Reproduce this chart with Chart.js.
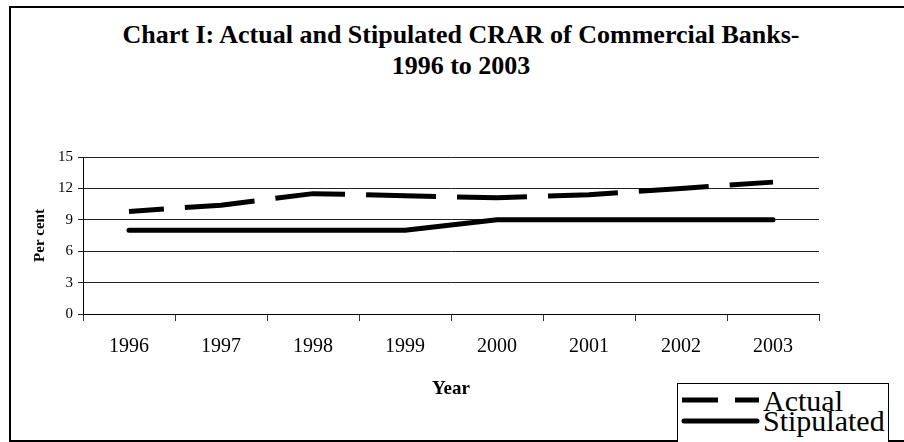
<!DOCTYPE html>
<html>
<head>
<meta charset="utf-8">
<script src="https://cdn.jsdelivr.net/npm/chart.js@4.4.1/dist/chart.umd.min.js"></script>
<style>
    html, body { margin: 0; padding: 0; background: #fff; overflow: hidden; }
    #wrap { position: relative; width: 904px; height: 442px; }
    #frame { position: absolute; left: 9px; top: 6px; width: 920px; height: 432px; border: 2px solid #000; }
    #chart { position: absolute; left: 0; top: 0; }
    .title { position: absolute; left: 0; width: 922px; text-align: center; font: bold 26px "Liberation Serif", serif; line-height: 30px; color: #000; white-space: nowrap; }
    #legend { position: absolute; left: 0; top: 0; }
</style>
</head>
<body>
<div id="wrap">
    <div id="frame"></div>
    <div class="title" style="top:20px">Chart I: Actual and Stipulated CRAR of Commercial Banks-</div>
    <div class="title" style="top:51px">1996 to 2003</div>
    <canvas id="chart" width="904" height="442"></canvas>
    <svg id="legend" width="904" height="442">
        <rect x="677.5" y="383.5" width="211" height="70" fill="#fff" stroke="#000" stroke-width="1"/>
        <line x1="682" y1="400" x2="759" y2="400" stroke="#000" stroke-width="5" stroke-dasharray="36,17"/>
        <line x1="684" y1="421" x2="757" y2="421" stroke="#000" stroke-width="5" stroke-linecap="round"/>
        <text x="763" y="411" font-family="Liberation Serif" font-size="30">Actual</text>
        <text x="763" y="431" font-family="Liberation Serif" font-size="30">Stipulated</text>
    </svg>
</div>
<script>
// données
const years = ['1996', '1997', '1998', '1999', '2000', '2001', '2002', '2003'];
const actual = [9.8, 10.4, 11.5, 11.3, 11.1, 11.4, 12.0, 12.6];
const stipulated = [8, 8, 8, 8, 9, 9, 9, 9];
const yTicks = [0, 3, 6, 9, 12, 15];

window.addEventListener("load", (event) => {
    const ctx = document.getElementById("chart").getContext('2d');
    const myChart = new Chart(ctx, {
        type: 'line',
        data: {
            labels: years,
            datasets: [
                {
                    label: 'Actual',
                    data: actual,
                    borderColor: '#000',
                    borderWidth: 5,
                    borderDash: [70, 21],
                    borderDashOffset: 35,
                    borderCapStyle: 'butt',
                    pointRadius: 0,
                    tension: 0,
                    fill: false
                },
                {
                    label: 'Stipulated',
                    data: stipulated,
                    borderColor: '#000',
                    borderWidth: 5,
                    borderCapStyle: 'round',
                    borderJoinStyle: 'round',
                    pointRadius: 0,
                    tension: 0,
                    fill: false
                }
            ]
        },
        options: {
            responsive: false,
            animation: false,
            layout: { padding: { left: 20, top: 157, right: 85, bottom: 0 } },
            plugins: {
                legend: { display: false },
                title: { display: false },
                tooltip: { enabled: false }
            },
            scales: {
                x: {
                    offset: true,
                    grid: { offset: true, drawOnChartArea: false, drawTicks: true, tickLength: 7, color: '#333' },
                    border: { color: '#000', width: 1 },
                    ticks: { color: '#000', padding: 14, font: { family: 'Liberation Serif', size: 20 } },
                    title: { display: true, text: 'Year', color: '#000', padding: { top: 0, bottom: 42 }, font: { family: 'Liberation Serif', size: 19, weight: 'bold' } },
                    afterFit: (scale) => { scale.height = 128; }
                },
                y: {
                    min: 0,
                    max: 15,
                    afterBuildTicks: (scale) => { scale.ticks = yTicks.map(v => ({ value: v })); },
                    grid: { color: '#222', tickLength: 5 },
                    border: { color: '#000', width: 1 },
                    ticks: { color: '#000', padding: 5, font: { family: 'Liberation Serif', size: 15 } },
                    title: { display: true, text: 'Per cent', color: '#000', padding: { top: 11, bottom: 0 }, font: { family: 'Liberation Serif', size: 15, weight: 'bold' } },
                    afterFit: (scale) => { scale.width = 63; }
                }
            }
        }
    });
});
</script>
</body>
</html>
